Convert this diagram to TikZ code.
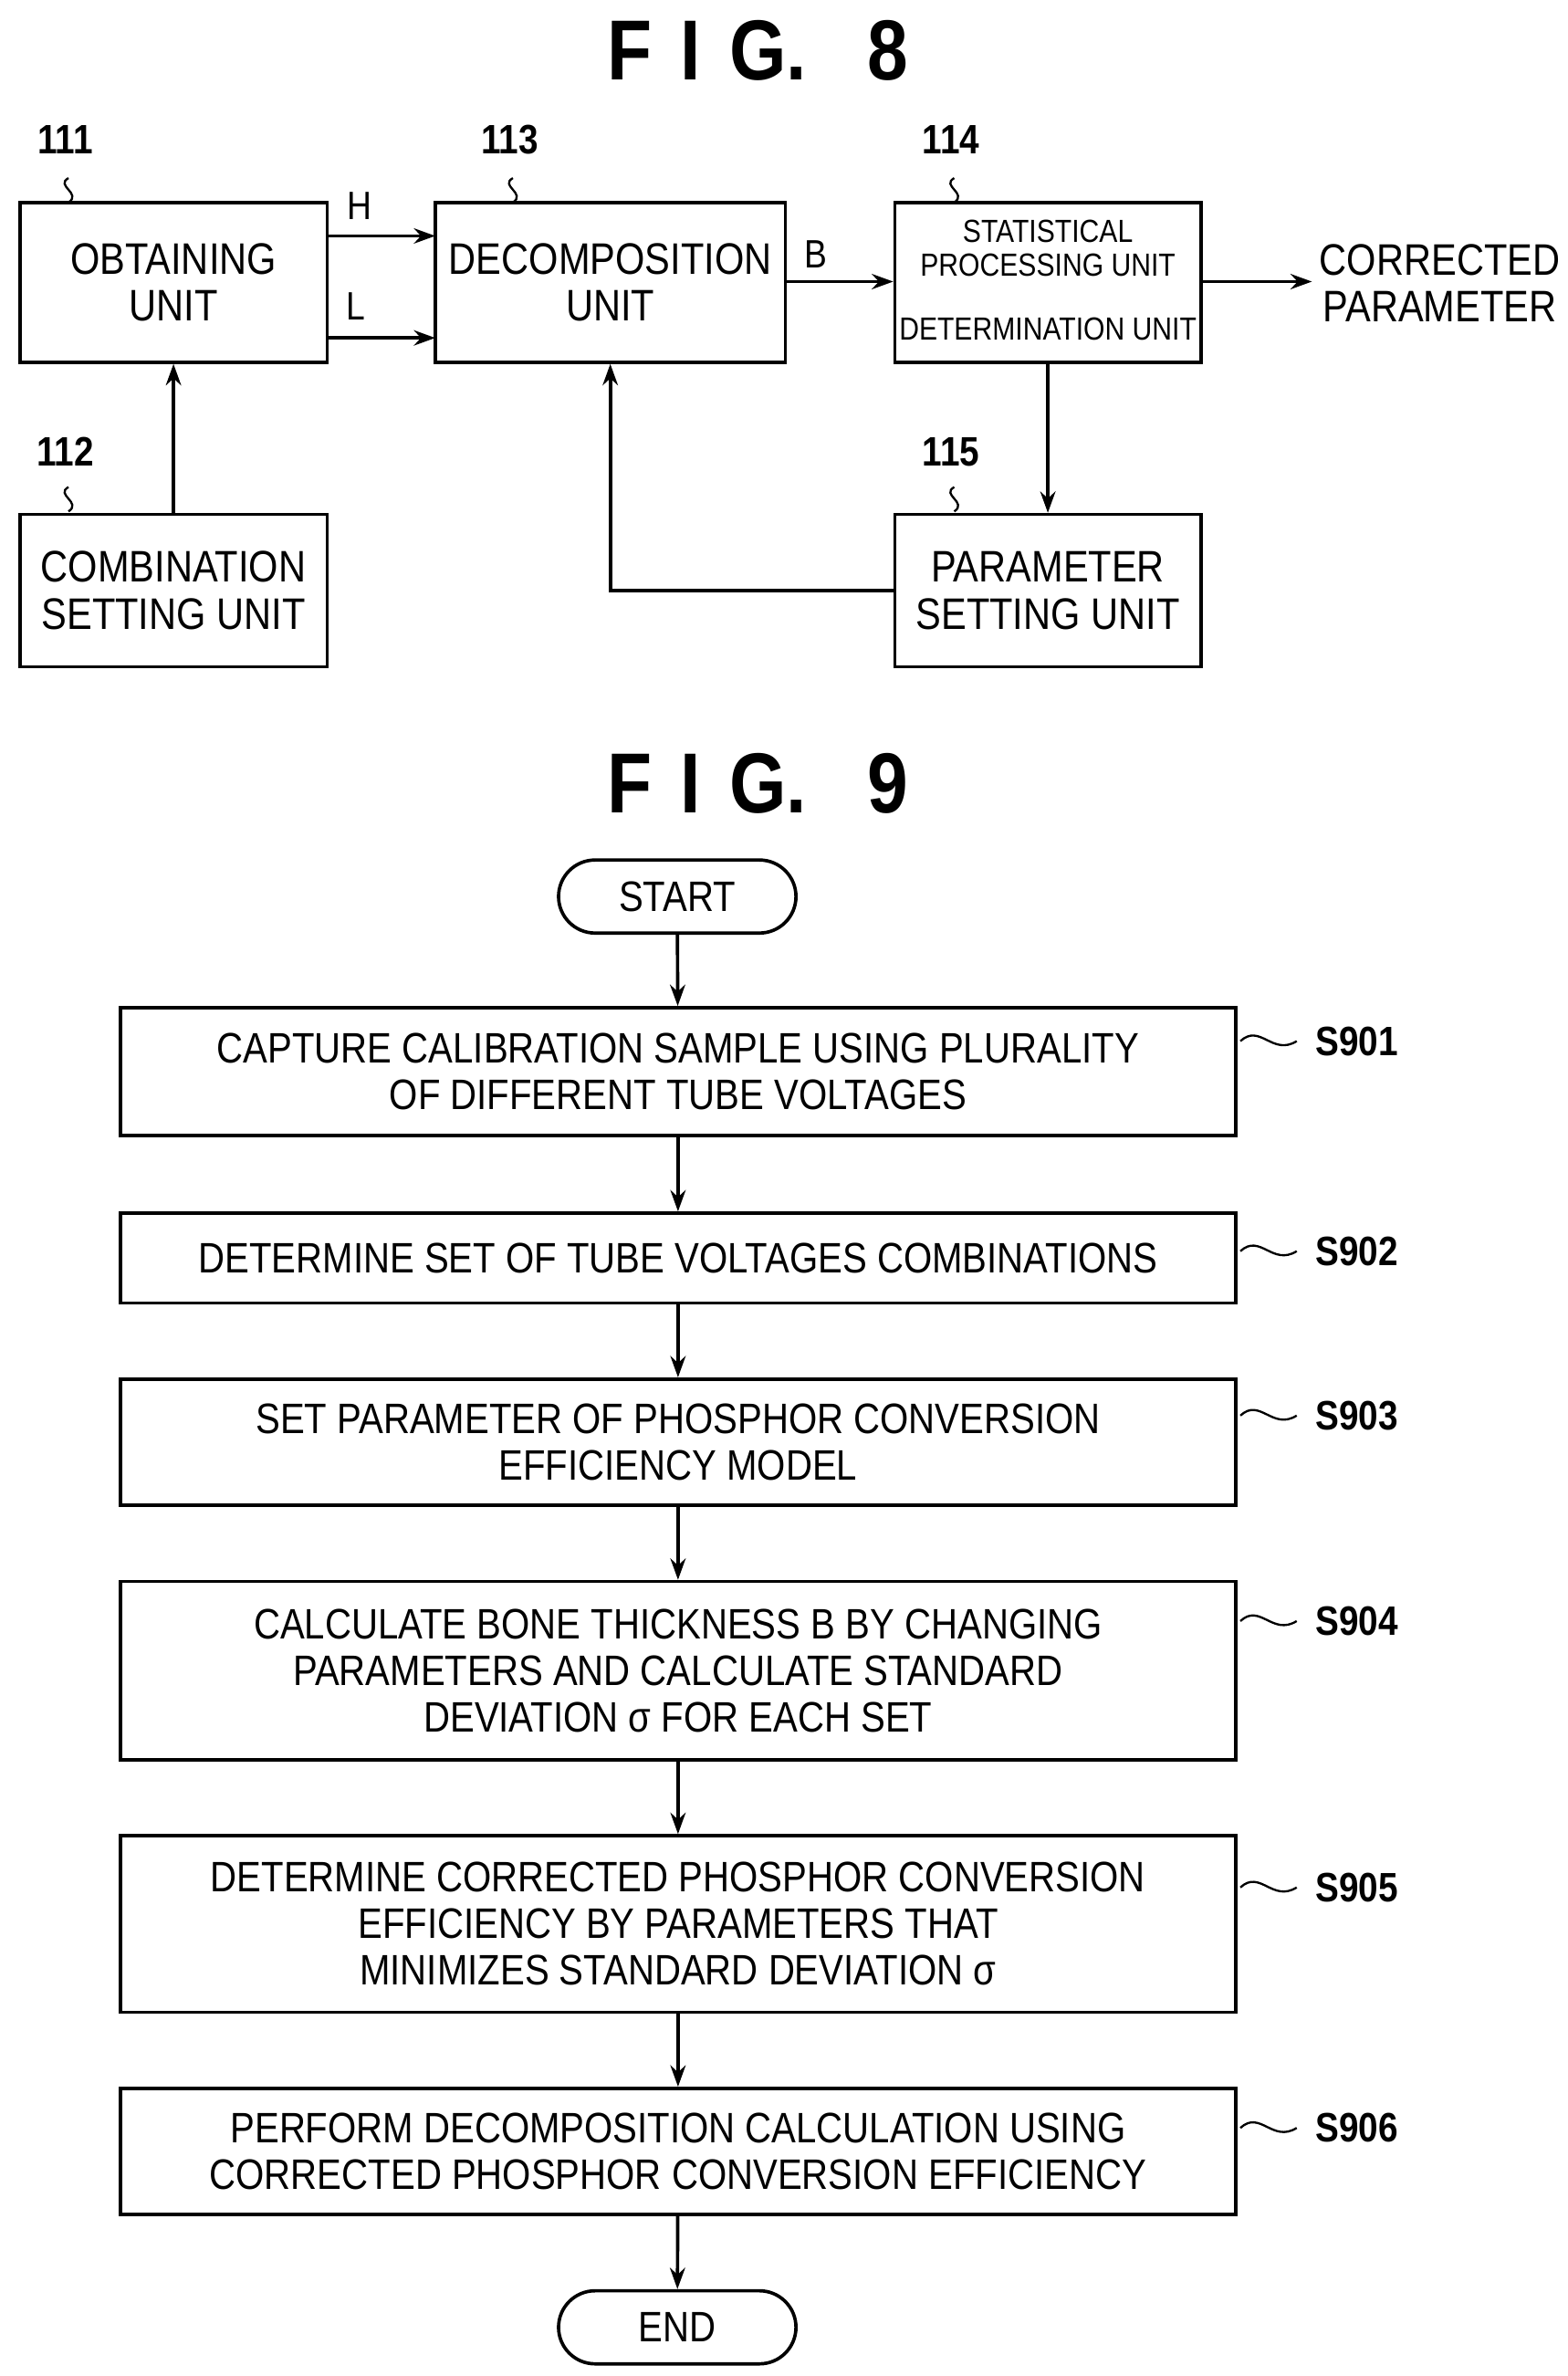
\documentclass[tikz,border=0pt]{standalone}
\usepackage{fontspec}
\setmainfont{Liberation Sans}[FakeStretch=0.86]
\usetikzlibrary{arrows.meta}
\begin{document}
\begin{tikzpicture}[x=1pt,y=-1pt,line width=2.2pt,
  box/.style={draw,inner sep=0pt,align=center,font=\fontsize{29}{31}\selectfont},
  stp/.style={draw,inner sep=0pt,align=center,font=\fontsize{28}{30.5}\selectfont,minimum width=733pt},
  term/.style={draw,rounded corners=24pt,inner sep=0pt,minimum width=156pt,minimum height=48pt,font=\fontsize{28}{30}\selectfont},
  num/.style={font=\bfseries\fontsize{27}{27}\selectfont},
  lbl/.style={font=\fontsize{26}{26}\selectfont},
  title/.style={font=\bfseries\fontsize{56}{56}\selectfont},
  arr/.style={-{Stealth[length=14pt,width=10pt]}},
  sq/.style={line width=1.4pt}]
\useasboundingbox (0,0) rectangle (1030,1561);
\node[title] (t8) at (498,33) {F\,\,I\,\,G.\ \ \ 8};
\node[box,minimum width=202pt,minimum height=105pt] (ob) at (114,185.5) {OBTAINING\\UNIT};
\node[box,minimum width=230pt,minimum height=105pt] (de) at (401,185.5) {DECOMPOSITION\\UNIT};
\node[draw,minimum width=201pt,minimum height=105pt,inner sep=0pt] (st) at (688.5,185.5) {};
\node[font=\fontsize{21}{22}\selectfont,align=center] (st1) at (688.5,163) {STATISTICAL\\PROCESSING UNIT};
\node[font=\fontsize{21}{22}\selectfont] (st2) at (688.5,216) {DETERMINATION UNIT};
\node[box,minimum width=202pt,minimum height=100pt] (co) at (114,388) {COMBINATION\\SETTING UNIT};
\node[box,minimum width=201pt,minimum height=100pt] (pa) at (688.5,388) {PARAMETER\\SETTING UNIT};
\node[box,draw=none,anchor=west] (cp) at (866,186) {CORRECTED\\PARAMETER};
\node[num] (n111) at (43,92) {111};
\node[num] (n113) at (335,92) {113};
\node[num] (n114) at (625,92) {114};
\node[num] (n112) at (43,297) {112};
\node[num] (n115) at (625,297) {115};
\foreach \x/\y in {45/117,337/117,627/117,45/320,627/320}
  \draw[sq] (\x,\y) .. controls (\x-9,\y+5) and (\x+9,\y+10) .. (\x,\y+16);
\coordinate (h1) at (215,155); \coordinate (h2) at (286,155);
\coordinate (l1) at (215,222); \coordinate (l2) at (286,222);
\draw[arr] (h1) -- (h2); \draw[arr] (l1) -- (l2);
\node[lbl] (H) at (236,135) {H}; \node[lbl] (L) at (234,201) {L};
\draw[arr] (de.east |- 0,185) -- (st.west |- 0,185);
\node[lbl] (B) at (536,167) {B};
\draw[arr] (st.east |- 0,185) -- (862,185);
\draw[arr] (co.north) -- (ob.south);
\draw[arr] (st.south) -- (pa.north);
\draw[arr] (pa.west) -| (de.south);
% FIG 9
\node[title] (t9) at (498,515) {F\,\,I\,\,G.\ \ \ 9};
\node[term] (start) at (445,589) {START};
\node[stp,minimum height=84pt] (s1) at (445.5,704) {CAPTURE CALIBRATION SAMPLE USING PLURALITY\\OF DIFFERENT TUBE VOLTAGES};
\node[stp,minimum height=59pt] (s2) at (445.5,826.5) {DETERMINE SET OF TUBE VOLTAGES COMBINATIONS};
\node[stp,minimum height=83pt] (s3) at (445.5,947.5) {SET PARAMETER OF PHOSPHOR CONVERSION\\EFFICIENCY MODEL};
\node[stp,minimum height=117pt] (s4) at (445.5,1097.5) {CALCULATE BONE THICKNESS B BY CHANGING\\PARAMETERS AND CALCULATE STANDARD\\DEVIATION σ FOR EACH SET};
\node[stp,minimum height=116pt] (s5) at (445.5,1264) {DETERMINE CORRECTED PHOSPHOR CONVERSION\\EFFICIENCY BY PARAMETERS THAT\\MINIMIZES STANDARD DEVIATION σ};
\node[stp,minimum height=83pt] (s6) at (445.5,1413.5) {PERFORM DECOMPOSITION CALCULATION USING\\CORRECTED PHOSPHOR CONVERSION EFFICIENCY};
\node[term] (end) at (445,1529) {END};
\foreach \a/\b in {start/s1,s1/s2,s2/s3,s3/s4,s4/s5,s5/s6,s6/end} \draw[arr] (\a) -- (\b);
\foreach \n/\y/\t in {s1/684/S901,s2/822/S902,s3/930/S903,s4/1065/S904,s5/1240/S905,s6/1398/S906}{
  \draw[sq] (815,\y) .. controls (828,\y-12) and (836,\y+10) .. (852,\y);
  \node[num,anchor=west] at (860,\y) {\t};}
\end{tikzpicture}
\end{document}
